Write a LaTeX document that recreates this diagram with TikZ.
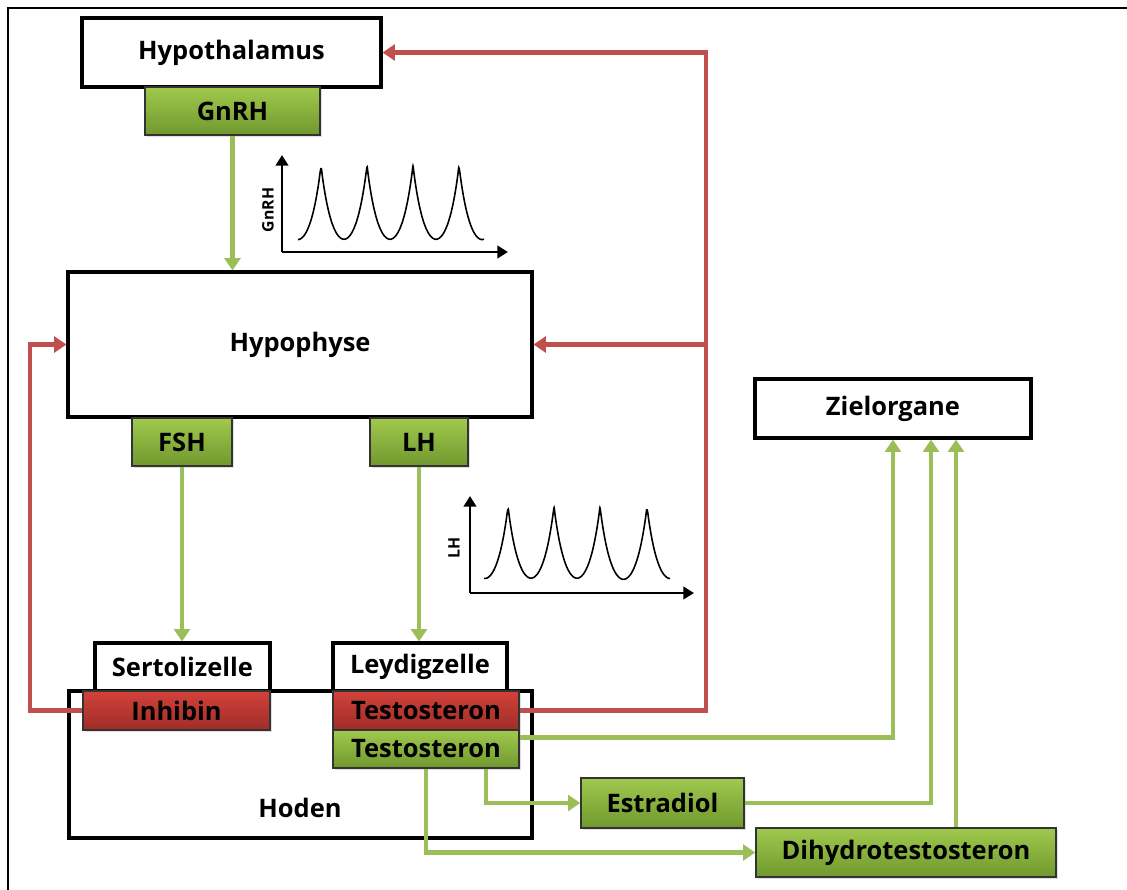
\documentclass[tikz,border=0pt]{standalone}
\usepackage{fontspec}
\setmainfont{Open Sans}
\usepackage{xcolor}
\usepackage{tikz}
\usetikzlibrary{arrows.meta,calc,shadows}

\definecolor{grntop}{RGB}{160,201,78}
\definecolor{grnbot}{RGB}{112,152,46}
\definecolor{redtop}{RGB}{210,66,58}
\definecolor{redbot}{RGB}{160,44,40}
\definecolor{grnline}{RGB}{155,190,88}
\definecolor{redline}{RGB}{192,80,77}

\begin{document}
\begin{tikzpicture}[
  x=0.02cm, y=-0.02cm,
  font=\fontsize{14.5}{17}\selectfont\bfseries,
  box/.style={draw=black, line width=1.8pt, fill=white, align=center, inner sep=0pt},
  gbox/.style={draw=black!80, line width=0.8pt, top color=grntop, bottom color=grnbot, inner sep=0pt,
    drop shadow={opacity=0.25, shadow xshift=1.2pt, shadow yshift=-1.2pt}},
  rbox/.style={draw=black!80, line width=0.8pt, top color=redtop, bottom color=redbot, inner sep=0pt,
    drop shadow={opacity=0.25, shadow xshift=1.2pt, shadow yshift=-1.2pt}},
  garr/.style={-{Triangle[width=9pt,length=7pt]}, draw=grnline, line width=2.8pt},
  rarr/.style={-{Triangle[width=9pt,length=7pt]}, draw=redline, line width=2.8pt},
  axis/.style={-{Triangle[width=7pt,length=6pt]}, line width=1.6pt},
  pulse/.style={line width=0.9pt, smooth, samples=200},
]
\useasboundingbox (0,0) rectangle (1127,890);
\draw[line width=1.2pt] (8,890) -- (8,8) -- (1127,8);

% boxes
\node[box, minimum width=5.98cm, minimum height=1.38cm] (hypothal) at (231.5,52.5) {Hypothalamus};
\node[gbox, minimum width=3.5cm, minimum height=0.96cm] (gnrh) at (232.5,111) {GnRH};
\node[box, minimum width=9.28cm, minimum height=2.9cm] (hypophyse) at (300,344.5) {Hypophyse};
\node[gbox, minimum width=2.0cm, minimum height=0.96cm] (fsh) at (182,442) {FSH};
\node[gbox, minimum width=1.96cm, minimum height=0.96cm] (lh) at (419,442) {LH};
\node[box, minimum width=5.52cm, minimum height=1.18cm] (ziel) at (893,408.5) {Zielorgane};

\node[box, minimum width=9.26cm, minimum height=2.94cm] (hoden) at (300.5,764.5) {};
\node (hodenlbl) at (300,808) {Hoden};
\node[box, minimum width=3.5cm, minimum height=0.96cm] (sertoli) at (182.5,667) {Sertolizelle};
\node[box, minimum width=3.48cm, minimum height=0.96cm] (leydig) at (420,667) {Leydigzelle};
\node[rbox, minimum width=3.74cm, minimum height=0.78cm] (inhibin) at (176.5,710.5) {Inhibin};
\node[rbox, minimum width=3.72cm, minimum height=0.78cm] (testr) at (426,710.5) {Testosteron};
\node[gbox, minimum width=3.72cm, minimum height=0.76cm] (testg) at (426,749) {Testosteron};
\node[gbox, minimum width=3.26cm, minimum height=1.0cm] (estradiol) at (662.5,803) {Estradiol};
\node[gbox, minimum width=6.0cm, minimum height=0.98cm] (dht) at (906,852.5) {Dihydrotestosteron};

% pulse charts
\coordinate (gorig) at (282,252);
\draw[axis] (gorig) -- (282,155);
\draw[axis] (gorig) -- (508,252);
\node[rotate=90, font=\fontsize{9}{10}\selectfont\bfseries] (gnrhlbl) at (268,210) {GnRH};
\draw[pulse, domain=298:484] plot (\x,{269-99*(exp(-abs(\x-275)/12)+exp(-abs(\x-321)/12)+exp(-abs(\x-367)/12)+exp(-abs(\x-413)/12)+exp(-abs(\x-459)/12)+exp(-abs(\x-505)/12))});

\coordinate (lorig) at (470,593);
\draw[axis] (lorig) -- (470,496);
\draw[axis] (lorig) -- (694,593);
\node[rotate=90, font=\fontsize{9}{10}\selectfont\bfseries] (lhlbl) at (454,548) {LH};
\draw[pulse, domain=484:670] plot (\x,{607-96*(exp(-abs(\x-462)/12)+exp(-abs(\x-508)/12)+exp(-abs(\x-554)/12)+exp(-abs(\x-600)/12)+exp(-abs(\x-647)/12)+exp(-abs(\x-693)/12))});

% stimulation
\draw[garr] (gnrh) -- (gnrh |- hypophyse.north);
\draw[garr] (fsh) -- (fsh |- sertoli.north);
\draw[garr] (lh) -- (lh |- leydig.north);

% feedback
\coordinate (lbus) at (30,0);
\coordinate (rbus) at (706,0);
\draw[rarr] (inhibin.west) -- (inhibin.west -| lbus) |- (hypophyse.west);
\draw[rarr] (testr.east) -- (testr.east -| rbus) |- (hypothal.east);
\draw[rarr] (rbus |- hypophyse.east) -- (hypophyse.east);

% targets
\coordinate (z1) at ($(ziel.south)+(0,0)$);
\coordinate (z2) at ($(ziel.south)+(38,0)$);
\coordinate (z3) at ($(ziel.south)+(63,0)$);
\draw[garr] ($(testg.north east)+(0,8)$) -| (z1);
\draw[garr] (estradiol.east) -| (z2);
\draw[garr] (dht.north -| z3) -- (z3);
\draw[garr] ($(testg.south)+(60,0)$) |- (estradiol.west);
\draw[garr] (testg.south) |- (dht.west);
\end{tikzpicture}
\end{document}
